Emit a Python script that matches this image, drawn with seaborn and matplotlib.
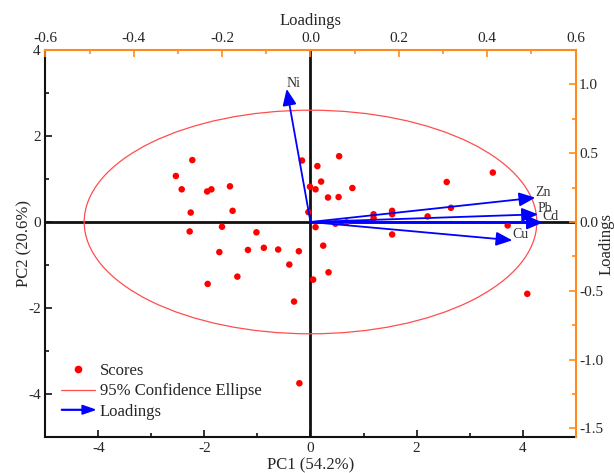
import matplotlib
matplotlib.use('Agg')
import matplotlib.pyplot as plt
import seaborn as sns
import pandas as pd
from matplotlib.patches import Ellipse, FancyArrow, Patch
from matplotlib.legend_handler import HandlerPatch
from matplotlib.lines import Line2D
from matplotlib.ticker import MultipleLocator, FormatStrFormatter

# PCA scores (PC1, PC2)
pc1 = [-2.23, -2.54, -2.43, -1.95, -1.87, -1.52, -2.26, -1.47, -0.16, 0.13,
       0.20, -0.01, 0.095, 0.33, 0.53, 0.54, -0.04, -2.28, -1.67, -1.02,
       -1.72, -1.18, -0.88, -0.61, -0.22, -0.40, 0.095, 0.24, 0.34, 0.05,
       -1.38, -1.94, -0.31, 0.47, 0.79, 0.68, 2.57, 3.44, 2.65, 1.19,
       1.19, 1.54, 1.54, 2.21, 1.54, 3.72, 4.09, -0.21]
pc2 = [1.44, 1.07, 0.76, 0.71, 0.76, 0.83, 0.22, 0.26, 1.43, 1.30,
       0.94, 0.82, 0.76, 0.57, 0.58, 1.53, 0.23, -0.22, -0.11, -0.24,
       -0.70, -0.65, -0.60, -0.64, -0.68, -0.99, -0.12, -0.55, -1.17, -1.34,
       -1.27, -1.44, -1.85, -0.04, 0.79, -0.01, 0.93, 1.15, 0.33, 0.18,
       0.09, 0.26, 0.18, 0.13, -0.29, -0.08, -1.67, -3.75]

# loadings
elements = ['Zn', 'Pb', 'Cd', 'Cu', 'Ni']
load1 = [0.509, 0.515, 0.526, 0.457, -0.054]
load2 = [0.177, 0.056, -0.004, -0.133, 0.967]

# 95% confidence ellipse (semi axes in score units)
ell_a, ell_b = 4.27, 2.60

scores = pd.DataFrame({'PC1': pc1, 'PC2': pc2})

sns.set_style('white')
plt.rcParams['font.family'] = ['Liberation Serif', 'DejaVu Serif']
plt.rcParams['axes.unicode_minus'] = False
plt.rcParams['xtick.direction'] = 'in'
plt.rcParams['ytick.direction'] = 'in'

orange = '#ff8c1a'
rect = [0.0741, 0.0761, 0.8632, 0.8182]

fig = plt.figure(figsize=(6.14, 4.73), dpi=100)
ax = fig.add_axes(rect)

ax.axhline(0, color='#111111', lw=2, zorder=1)
ax.axvline(0, color='#111111', lw=2, zorder=1)
ax.add_patch(Ellipse((0, 0), 2 * ell_a, 2 * ell_b, fill=False,
                     edgecolor='#ff4d4d', lw=0.9, zorder=2))
sns.scatterplot(data=scores, x='PC1', y='PC2', ax=ax, color='red', s=22,
                edgecolor='none', zorder=3)

ax.set_xlim(-5, 5)
ax.set_ylim(-5, 4)
ax.xaxis.set_major_locator(MultipleLocator(2))
ax.xaxis.set_minor_locator(MultipleLocator(1))
ax.yaxis.set_major_locator(MultipleLocator(2))
ax.yaxis.set_minor_locator(MultipleLocator(1))
ax.tick_params(which='both', direction='in', bottom=True, left=True,
               top=False, right=False, labelsize=11, width=1.2, color='#111111')
ax.tick_params(which='major', length=5)
ax.tick_params(which='minor', length=3)
ax.set_xlabel('PC1 (54.2%)', fontsize=12, labelpad=2)
ax.set_ylabel('PC2 (20.6%)', fontsize=12, labelpad=-3)
for s in ['left', 'bottom']:
    ax.spines[s].set_color('#111111')
    ax.spines[s].set_linewidth(1.5)
for s in ['top', 'right']:
    ax.spines[s].set_visible(False)

# loadings axes (top / right)
axl = fig.add_axes(rect)
axl.patch.set_visible(False)
axl.set_xlim(-0.6, 0.6)
axl.set_ylim(-1.5625, 1.25)
axl.xaxis.tick_top()
axl.xaxis.set_label_position('top')
axl.yaxis.tick_right()
axl.yaxis.set_label_position('right')
axl.xaxis.set_major_locator(MultipleLocator(0.2))
axl.xaxis.set_minor_locator(MultipleLocator(0.1))
axl.yaxis.set_major_locator(MultipleLocator(0.5))
axl.yaxis.set_minor_locator(MultipleLocator(0.25))
axl.xaxis.set_major_formatter(FormatStrFormatter('%.1f'))
axl.yaxis.set_major_formatter(FormatStrFormatter('%.1f'))
axl.tick_params(which='both', direction='in', top=True, right=True,
                bottom=False, left=False, labelsize=11, width=1.2, color=orange)
axl.tick_params(axis='y', pad=2.5)
axl.tick_params(which='major', length=5)
axl.tick_params(which='minor', length=3)
axl.set_xlabel('Loadings', fontsize=12, labelpad=5)
axl.set_ylabel('Loadings', fontsize=12)
axl.yaxis.set_label_coords(1.059, 0.5)
axl.yaxis.label.set_verticalalignment('center')
axl.yaxis.label.set_horizontalalignment('center')
for s in ['top', 'right']:
    axl.spines[s].set_color(orange)
    axl.spines[s].set_linewidth(1.5)
for s in ['left', 'bottom']:
    axl.spines[s].set_visible(False)

for name, lx, ly in zip(elements, load1, load2):
    axl.annotate('', xy=(lx, ly), xytext=(0, 0),
                 arrowprops=dict(arrowstyle='-|>,head_length=0.7,head_width=0.3',
                                 color='blue', lw=1.3, mutation_scale=14,
                                 shrinkA=0, shrinkB=0), zorder=4)
    axl.annotate(name, xy=(lx, ly), xytext=(0, 4), textcoords='offset points',
                 ha='left', va='center', fontsize=10, color='#333333')


def arrow_patch(legend, orig_handle, xdescent, ydescent, width, height, fontsize):
    return FancyArrow(-xdescent, height / 2 - ydescent, width, 0, width=0.5,
                      head_width=height * 0.75, head_length=width * 0.38,
                      length_includes_head=True, color='blue')


handles = [Line2D([], [], ls='none', marker='o', ms=4.5, color='red'),
           Line2D([], [], color='#ff4d4d', lw=0.9),
           Patch(color='blue')]
labels = ['Scores', '95% Confidence Ellipse', 'Loadings']
ax.legend(handles, labels, loc='lower left', bbox_to_anchor=(0.03, 0.045),
          frameon=False, fontsize=12, handlelength=2.0, handletextpad=0.3,
          labelspacing=0.25, borderpad=0, borderaxespad=0,
          handler_map={Patch: HandlerPatch(patch_func=arrow_patch)})

fig.savefig('out.png', dpi=100)
